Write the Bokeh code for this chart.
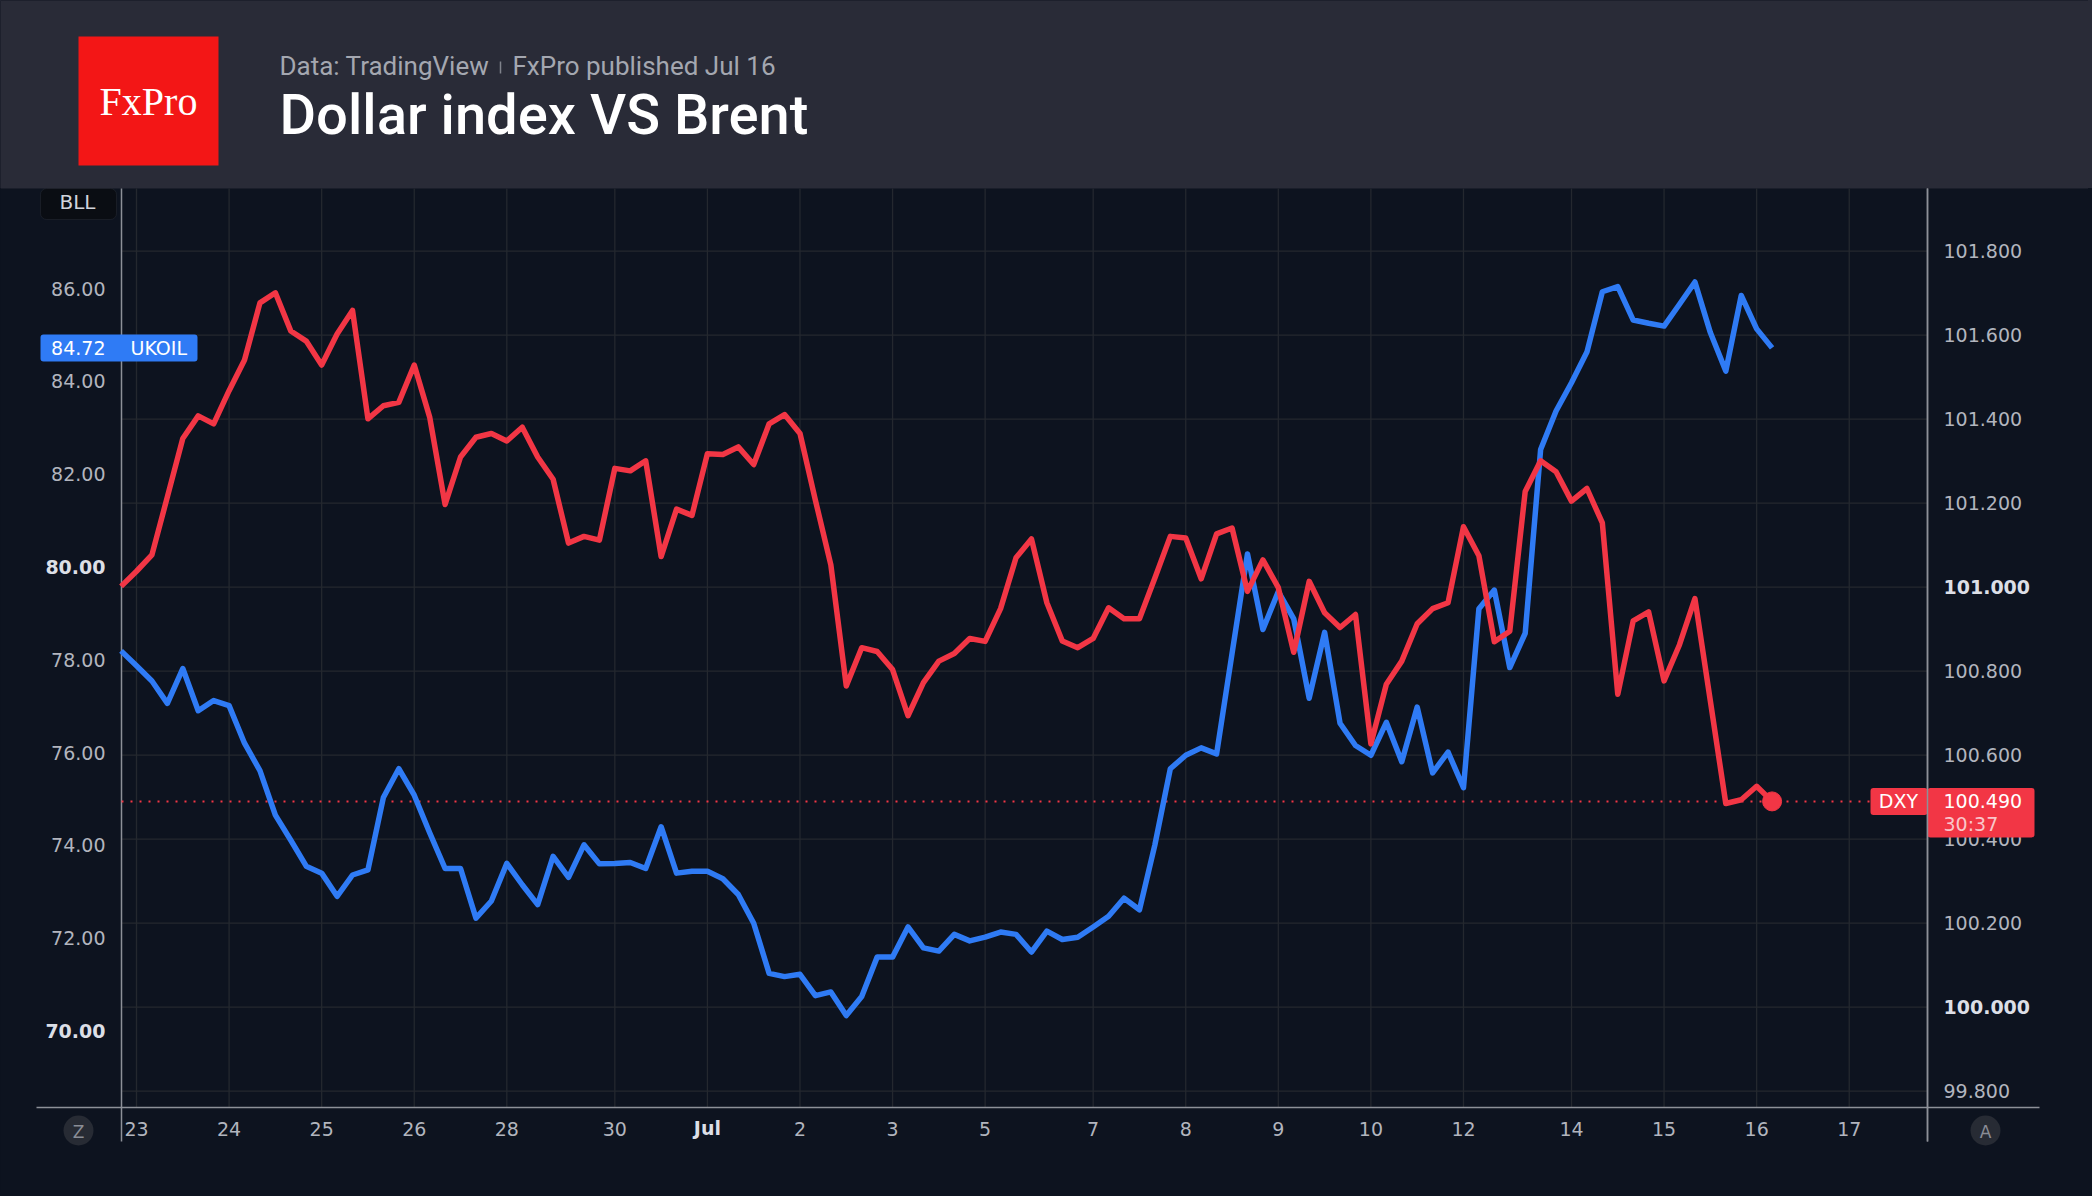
from bokeh.plotting import figure
from bokeh.models import (Range1d, LinearAxis, FixedTicker, PrintfTickFormatter, Label,
                          BoxAnnotation)
from bokeh.core.properties import value
from bokeh.embed import file_html
from bokeh.resources import INLINE

# ---------------- data (4-hour bars, weekend gaps removed) ----------------
bars = list(range(-1, 107))
dxy = [101.002, 101.038, 101.077, 101.215, 101.354, 101.408, 101.389, 101.468, 101.541, 101.677,
       101.701, 101.610, 101.586, 101.529, 101.603, 101.659, 101.401, 101.432, 101.440, 101.529,
       101.405, 101.197, 101.310, 101.357, 101.366, 101.348, 101.381, 101.310, 101.257, 101.105,
       101.121, 101.112, 101.283, 101.277, 101.301, 101.073, 101.186, 101.171, 101.318, 101.316,
       101.334, 101.292, 101.389, 101.411, 101.366, 101.207, 101.053, 100.765, 100.856, 100.847,
       100.804, 100.694, 100.773, 100.824, 100.842, 100.878, 100.871, 100.949, 101.070, 101.115,
       100.963, 100.872, 100.856, 100.878, 100.951, 100.925, 100.925, 101.022, 101.121, 101.117,
       101.020, 101.127, 101.141, 100.990, 101.065, 100.999, 100.845, 101.014, 100.939, 100.904,
       100.935, 100.627, 100.769, 100.824, 100.913, 100.949, 100.963, 101.144, 101.075, 100.870,
       100.895, 101.228, 101.301, 101.275, 101.205, 101.235, 101.153, 100.745, 100.920, 100.941,
       100.777, 100.863, 100.973, 100.729, 100.485, 100.494, 100.526, 100.490]
ukoil = [78.19, 77.87, 77.54, 77.06, 77.81, 76.90, 77.12, 77.01, 76.20, 75.61,
         74.65, 74.11, 73.55, 73.40, 72.90, 73.36, 73.47, 75.03, 75.65, 75.08,
         74.27, 73.50, 73.50, 72.43, 72.80, 73.61, 73.15, 72.72, 73.76, 73.31,
         74.01, 73.60, 73.61, 73.63, 73.50, 74.40, 73.40, 73.44, 73.44, 73.28,
         72.94, 72.32, 71.24, 71.17, 71.22, 70.76, 70.84, 70.33, 70.74, 71.59,
         71.59, 72.24, 71.79, 71.72, 72.08, 71.94, 72.02, 72.13, 72.08, 71.70,
         72.15, 71.97, 72.02, 72.24, 72.47, 72.86, 72.61, 74.01, 75.65, 75.94,
         76.10, 75.97, 78.13, 80.28, 78.65, 79.47, 78.88, 77.17, 78.59, 76.63,
         76.15, 75.94, 76.65, 75.80, 76.98, 75.56, 76.01, 75.24, 79.10, 79.50,
         77.83, 78.57, 82.53, 83.36, 83.97, 84.63, 85.93, 86.04, 85.32, 85.25,
         85.19, 85.66, 86.14, 85.05, 84.22, 85.85, 85.13, 84.72]
tick_bars = [0, 6, 12, 18, 24, 31, 37, 43, 49, 55, 62, 68, 74, 80, 86, 93, 99, 105, 111]
tick_labels = ["23", "24", "25", "26", "28", "30", "Jul", "2", "3", "5", "7", "8", "9", "10",
               "12", "14", "15", "16", "17"]
bold_x_labels = ["Jul"]
dxy_ticks = [99.8, 100.0, 100.2, 100.4, 100.6, 100.8, 101.0, 101.2, 101.4, 101.6, 101.8]
bold_dxy = [100.0, 101.0]
oil_ticks = [70, 72, 74, 76, 78, 80, 82, 84, 86]
bold_oil = [70, 80]
countdown = "30:37"

# ---------------- styles ----------------
BG = "#0d131f"
HEADER = "#292b37"
GRID = "#24282f"
AXIS = "#8d9098"
TXT = "#b2b5be"
TXT_B = "#dcdfe6"
RED = "#f23645"
BLUE = "#2f7bf5"
FONT = "DejaVu Sans"
FS = "19px"

# page-pixel geometry (the canvas starts at the page origin)
W, H = 2088, 1192
PAGE_L, PAGE_R, PAGE_T, PAGE_B = 0.0, float(W), 0.0, float(H)
FL, FR, FT, FB = 121.0, 1927.0, 188.0, 1107.0
BAR0_PX, BAR_W = 136.0, 15.43
D_REF_PX, D_REF, D_PX = 586.7, 101.0, 420.0     # 101.0 at page y 586.7, 420 px per unit
O_REF_PX, O_REF, O_PX = 288.0, 86.0, 46.4       # 86.0 at page y 288, 46.4 px per unit


def px2x(px):
    return (px - BAR0_PX) / BAR_W


def py2d(py):
    return D_REF - (py - D_REF_PX) / D_PX


def py2o(py):
    return O_REF - (py - O_REF_PX) / O_PX


p = figure(width=W, height=H,
           x_range=Range1d(px2x(PAGE_L), px2x(PAGE_R)),
           y_range=Range1d(py2d(PAGE_B), py2d(PAGE_T)),
           x_axis_type=None, y_axis_type=None,
           output_backend="svg", toolbar_location=None, min_border=0,
           background_fill_color=BG, border_fill_color=BG, outline_line_color=None)
p.extra_y_ranges = {"oil": Range1d(py2o(PAGE_B), py2o(PAGE_T)), "py": Range1d(PAGE_B, PAGE_T)}
p.extra_x_ranges = {"px": Range1d(PAGE_L, PAGE_R)}
PX = dict(x_range_name="px", y_range_name="py")

# ---------------- header ----------------
p.quad(left=[PAGE_L], right=[PAGE_R], top=[PAGE_T], bottom=[FT], fill_color=HEADER,
       line_color=None, **PX)
p.quad(left=[78], right=[218], top=[36], bottom=[165], fill_color="#f31616", line_color=None, **PX)
p.text(x=[148], y=[101], text=["FxPro"], text_font=value("Liberation Serif"),
       text_font_size="40px", text_color="#ffffff", text_align="center", text_baseline="middle", **PX)
p.text(x=[279], y=[65], text=["Data: TradingView"], text_font=value("Roboto"),
       text_font_size="26px", text_color="#a4a7b0", text_align="left", text_baseline="middle", **PX)
p.segment(x0=[500], y0=[61], x1=[500], y1=[73], line_color="#80838c", line_width=1.5, **PX)
p.text(x=[512], y=[65], text=["FxPro published Jul 16"], text_font=value("Roboto"),
       text_font_size="26px", text_color="#a4a7b0", text_align="left", text_baseline="middle", **PX)
p.text(x=[279], y=[114], text=["Dollar index VS Brent"], text_font=value("Roboto Medium"),
       text_font_size="56px", text_color="#ffffff", text_align="left", text_baseline="middle", **PX)

# ---------------- grid ----------------
p.segment(x0=tick_bars, x1=tick_bars, y0=[py2d(FT)] * len(tick_bars),
          y1=[py2d(FB)] * len(tick_bars), line_color=GRID, line_width=1.3)
p.segment(x0=[px2x(FL)] * len(dxy_ticks), x1=[px2x(FR)] * len(dxy_ticks), y0=dxy_ticks,
          y1=dxy_ticks, line_color=GRID, line_width=1.3)

# ---------------- axes ----------------
xaxis = LinearAxis(fixed_location=py2d(FB),
                   ticker=FixedTicker(ticks=[b for b, l in zip(tick_bars, tick_labels)
                                             if l not in bold_x_labels]),
                   major_label_overrides={b: l for b, l in zip(tick_bars, tick_labels)})
raxis = LinearAxis(fixed_location=px2x(FR),
                   ticker=FixedTicker(ticks=[t for t in dxy_ticks if t not in bold_dxy]),
                   formatter=PrintfTickFormatter(format="%.3f"))
laxis = LinearAxis(fixed_location=px2x(FL), y_range_name="oil",
                   ticker=FixedTicker(ticks=[t for t in oil_ticks if t not in bold_oil]),
                   formatter=PrintfTickFormatter(format="%.2f"))
for ax, standoff in ((xaxis, 14), (raxis, 16), (laxis, 16)):
    ax.axis_line_color = None
    ax.major_tick_in = 0
    ax.major_tick_out = 0
    ax.minor_tick_line_color = None
    ax.major_tick_line_color = None
    ax.major_label_text_font = FONT
    ax.major_label_text_font_size = FS
    ax.major_label_text_color = TXT
    ax.major_label_standoff = standoff
p.add_layout(xaxis, "below")
p.add_layout(raxis, "right")
p.add_layout(laxis, "left")

# axis lines
p.segment(x0=[36, FL, FR], y0=[FB, FT, FT], x1=[2039, FL, FR], y1=[FB, 1141, 1141],
          line_color=AXIS, line_width=1.5, **PX)

# last price dotted line
p.segment(x0=[FL], x1=[1870], y0=[dxy[-1]], y1=[dxy[-1]], x_range_name="px",
          line_color=RED, line_dash="2 7", line_width=2)

# ---------------- series ----------------
p.line(bars, ukoil, y_range_name="oil", line_color=BLUE, line_width=5.5, line_join="round")
p.line(bars, dxy, line_color=RED, line_width=5.5, line_join="round")
p.scatter([bars[-1]], [dxy[-1]], size=19, fill_color=RED, line_color=RED)

# bold tick labels
for t in bold_oil:
    p.add_layout(Label(x=FL - 16, y=t, x_range_name="px", y_range_name="oil", text=f"{t:.2f}",
                       text_font=FONT, text_font_size=FS, text_font_style="bold", text_color=TXT_B,
                       text_align="right", text_baseline="middle"))
for t in bold_dxy:
    p.add_layout(Label(x=FR + 16, y=t, x_range_name="px", text=f"{t:.3f}", text_font=FONT,
                       text_font_size=FS, text_font_style="bold", text_color=TXT_B,
                       text_align="left", text_baseline="middle"))
for b, l in zip(tick_bars, tick_labels):
    if l in bold_x_labels:
        p.add_layout(Label(x=b, y=1127, y_range_name="py", text=l, text_font=FONT, text_font_size=FS,
                           text_font_style="bold", text_color=TXT_B, text_align="center",
                           text_baseline="middle"))

# BLL box
p.add_layout(BoxAnnotation(left=40, right=116, top=FT, bottom=219, fill_color="#0a0d13",
                           fill_alpha=1, line_color="#3a3e49", line_width=1, border_radius=6, **PX))
p.add_layout(Label(x=77, y=201, text="BLL", text_font=FONT, text_font_size="20px",
                   text_color="#d1d4dc", text_align="center", text_baseline="middle", **PX))

# UKOIL last value label
OPP = 1.0 / O_PX
DPP = 1.0 / D_PX
p.add_layout(BoxAnnotation(left=40, right=197, top=ukoil[-1] + 13.5 * OPP,
                           bottom=ukoil[-1] - 13.5 * OPP, x_range_name="px", y_range_name="oil",
                           fill_color=BLUE, fill_alpha=1, line_color=None, border_radius=3))
p.add_layout(Label(x=FL - 16, y=ukoil[-1], x_range_name="px", y_range_name="oil",
                   text=f"{ukoil[-1]:.2f}", text_font=FONT, text_font_size=FS,
                   text_color="#ffffff", text_align="right", text_baseline="middle"))
p.add_layout(Label(x=130, y=ukoil[-1], x_range_name="px", y_range_name="oil", text="UKOIL",
                   text_font=FONT, text_font_size=FS, text_color="#ffffff",
                   text_align="left", text_baseline="middle"))

# DXY last value labels
p.add_layout(BoxAnnotation(left=1870, right=FR, top=dxy[-1] + 13.5 * DPP,
                           bottom=dxy[-1] - 13.5 * DPP, x_range_name="px", fill_color=RED,
                           fill_alpha=1, line_color=None, border_radius=3))
p.add_layout(BoxAnnotation(left=FR, right=2034, top=dxy[-1] + 13.5 * DPP,
                           bottom=dxy[-1] - 36 * DPP, x_range_name="px", fill_color=RED,
                           fill_alpha=1, line_color=None, border_radius=3))
p.add_layout(Label(x=1898, y=dxy[-1], x_range_name="px", text="DXY", text_font=FONT,
                   text_font_size=FS, text_color="#ffffff", text_align="center",
                   text_baseline="middle"))
p.add_layout(Label(x=FR + 16, y=dxy[-1], x_range_name="px", text=f"{dxy[-1]:.3f}",
                   text_font=FONT, text_font_size=FS, text_color="#ffffff", text_align="left",
                   text_baseline="middle"))
p.add_layout(Label(x=FR + 16, y=dxy[-1] - 23 * DPP, x_range_name="px", text=countdown,
                   text_font=FONT, text_font_size=FS, text_color="#f9c6cb", text_align="left",
                   text_baseline="middle"))
# right axis line stays visible across the label box
p.add_layout(BoxAnnotation(left=FR - 0.75, right=FR + 0.75, top=FT, bottom=1141, fill_color=AXIS,
                           fill_alpha=1, line_color=None, **PX))

# small round buttons
p.scatter(x=[78, 1985], y=[1130, 1130], size=30, fill_color="#272b34", line_color=None, **PX)
p.text(x=[78, 1985], y=[1131, 1131], text=["Z", "A"], text_font=value(FONT), text_font_size="17px",
       text_color="#8a8d96", text_align="center", text_baseline="middle", **PX)

try:
    from bokeh.models import GlobalInlineStyleSheet
    p.stylesheets = [GlobalInlineStyleSheet(
        css="html{background:#0d131f linear-gradient(#292b37,#292b37) no-repeat;"
            "background-size:100% 188px;}")]
except Exception:
    pass

open("out.html", "w").write(file_html(p, INLINE))
